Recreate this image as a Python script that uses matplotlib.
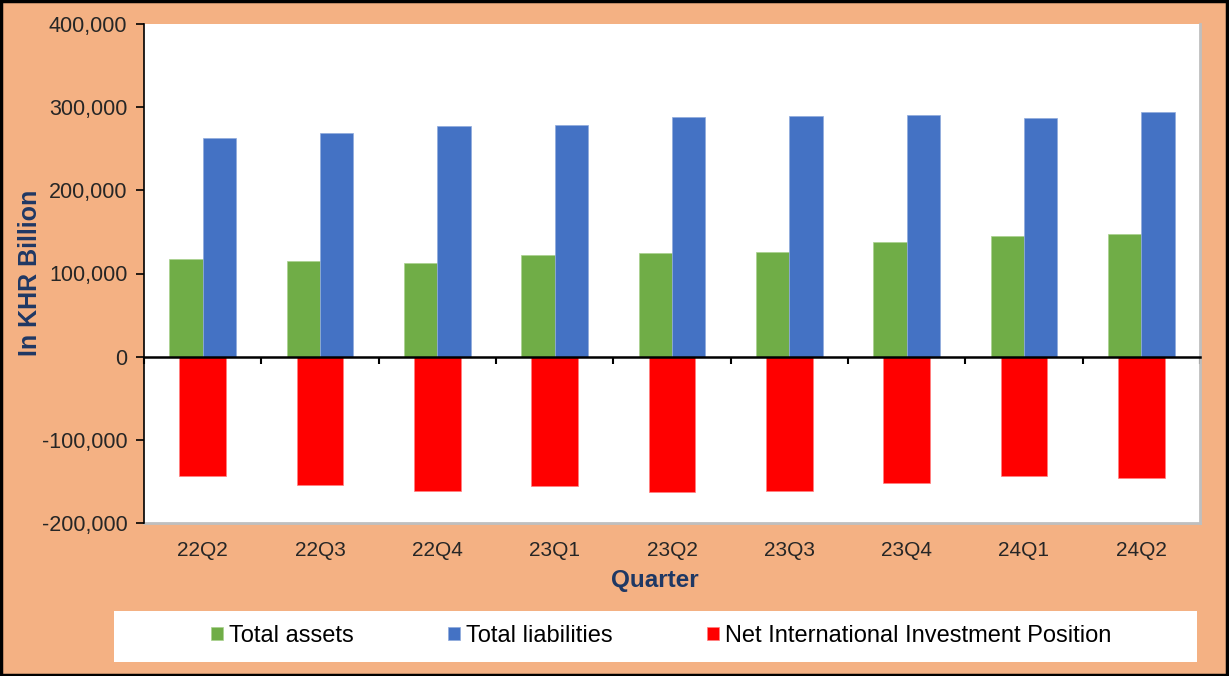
import numpy as np
import matplotlib.pyplot as plt
from matplotlib.patches import Rectangle
from matplotlib.ticker import FuncFormatter

plt.rcParams['font.family'] = ['Liberation Sans', 'DejaVu Sans']

quarters = ['22Q2', '22Q3', '22Q4', '23Q1', '23Q2', '23Q3', '23Q4', '24Q1', '24Q2']
total_assets = [117700, 115000, 113000, 122500, 125000, 126000, 138000, 144500, 147400]
total_liabilities = [263000, 269000, 277000, 278700, 288000, 289500, 290700, 287500, 294000]
niip = [-143800, -154600, -162000, -156000, -163000, -162000, -152500, -143800, -145300]

peach = '#F4B183'
navy = '#1F3864'

fig = plt.figure(figsize=(12.29, 6.76), dpi=100)
fig.patch.set_facecolor(peach)
ax = fig.add_axes([144/1229, 1 - 523/676, (1200 - 144)/1229, (523 - 24)/676])
ax.set_facecolor('white')

x = np.arange(len(quarters))
w = 0.285
ax.bar(x - w/2, total_assets, w, color='#70AD47', edgecolor='#A9D18E', linewidth=0.5,
       label='Total assets', zorder=2)
ax.bar(x + w/2, total_liabilities, w, color='#4472C4', edgecolor='#8FAADC', linewidth=0.5,
       label='Total liabilities', zorder=2)
ax.bar(x, niip, 0.4, color='#FF0000', edgecolor='#FF7F7F', linewidth=0.5,
       label='Net International Investment Position', zorder=2)

ax.set_xlim(-0.5, len(quarters) - 0.5)
ax.set_ylim(-200000, 400000)
ax.set_yticks(np.arange(-200000, 400001, 100000))
ax.yaxis.set_major_formatter(FuncFormatter(lambda v, p: f'{int(v):,}'))
ax.tick_params(axis='y', length=6, width=1.2, pad=6, labelsize=15.5, colors='black',
               labelcolor='#262626')

# zero line with category boundary ticks
ax.spines['bottom'].set_position(('data', 0))
ax.spines['bottom'].set_linewidth(1.8)
ax.spines['bottom'].set_zorder(3)
ax.set_xticks(np.arange(-0.5, len(quarters), 1))
ax.tick_params(axis='x', length=5, width=1.5, direction='out', labelbottom=False)

ax.spines['left'].set_linewidth(1.2)
ax.spines['top'].set_visible(False)
ax.spines['right'].set_color('#BFBFBF')
ax.spines['right'].set_linewidth(2)

sec = ax.secondary_xaxis('bottom')
sec.set_xticks(x, quarters)
sec.tick_params(length=0, pad=13, labelsize=15, labelcolor='#262626')
sec.spines['bottom'].set_color('#BFBFBF')
sec.spines['bottom'].set_linewidth(2)

fig.text(30/1229, 1 - 273/676, 'In KHR Billion', rotation=90, ha='center', va='center',
         fontsize=18, fontweight='bold', color=navy)
fig.text(655/1229, 1 - 581/676, 'Quarter', ha='center', va='center',
         fontsize=17.5, fontweight='bold', color=navy)

# legend box
fig.patches.append(Rectangle((114/1229, 1 - 662/676), (1197 - 114)/1229, 51/676,
                             transform=fig.transFigure, facecolor='white',
                             edgecolor='none', zorder=0))
handles, labels = ax.get_legend_handles_labels()
fig.legend(handles, labels, loc='center', bbox_to_anchor=(661/1229, 1 - 636/676),
           ncol=3, frameon=False, fontsize=17, handlelength=0.5, handleheight=0.5,
           handletextpad=0.25, columnspacing=4.0)

# outer border
fig.patches.append(Rectangle((0.001, 0.002), 0.997, 0.996, transform=fig.transFigure,
                             fill=False, edgecolor='black', linewidth=2.5))

fig.savefig('out.png', dpi=100, facecolor=peach)
